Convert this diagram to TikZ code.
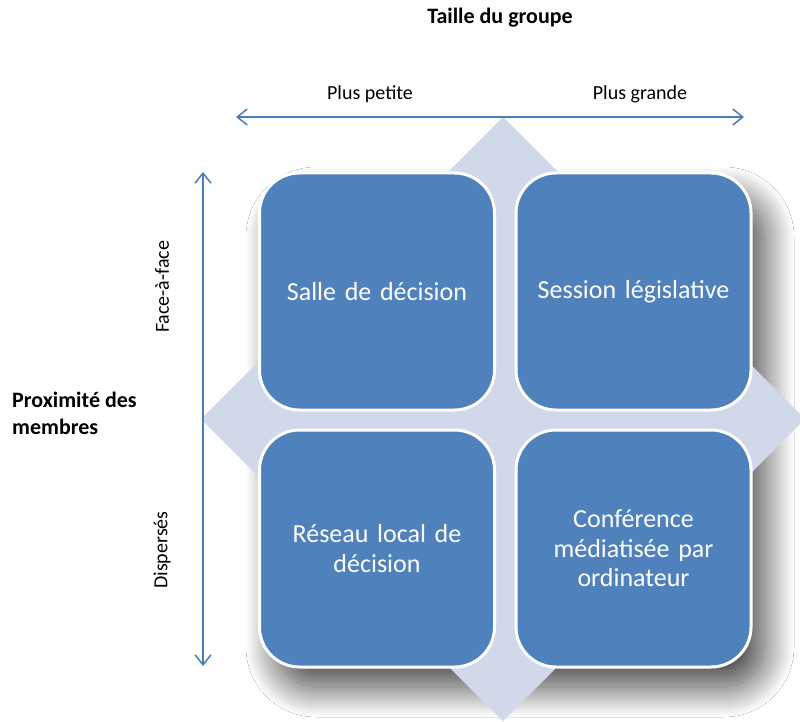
\documentclass[tikz,border=0pt]{standalone}
\usepackage{fontspec}
\setmainfont{Carlito}
\usetikzlibrary{arrows.meta,shadows.blur}
\definecolor{boxblue}{HTML}{4F81BD}
\definecolor{diam}{HTML}{D0D8E9}
\definecolor{arrowblue}{HTML}{4A7EBB}
\begin{document}
\begin{tikzpicture}[x=1pt,y=-1pt,
  cell/.style={draw=white,line width=3pt,fill=boxblue,rounded corners=40pt,
    minimum width=235pt,minimum height=237pt,text=white,
    font=\fontsize{26}{29.5}\selectfont,align=center,inner sep=0pt,text width=200pt},
  axis/.style={draw=arrowblue,line width=1.5pt,
    {Straight Barb[length=10pt,width=16pt]}-{Straight Barb[length=10pt,width=16pt]}},
  lab/.style={font=\fontsize{20}{24}\selectfont,inner sep=0pt},
  title/.style={font=\bfseries\fontsize{22}{27}\selectfont,inner sep=0pt}]
\useasboundingbox[fill=white] (0,0) rectangle (800,722);
% shadow of the matrix
\path[blur shadow={shadow xshift=14pt,shadow yshift=-22pt,shadow blur radius=30pt,
    shadow blur steps=50,shadow opacity=75},
  rounded corners=40pt] (262,175) rectangle (750,665);
% diamond
\fill[diam] (503,117) -- (805,419) -- (503,721) -- (201,419) -- cycle;
% axes
\coordinate (hL) at (236,117);
\coordinate (hR) at (744,117);
\coordinate (vT) at (203,172);
\coordinate (vB) at (203,666);
\draw[axis] (hL) -- (hR);
\draw[axis] (vT) -- (vB);
% cells
\node[cell] (tl) at (377,291.5) {Salle de décision};
\node[cell] (tr) at (633.5,291.5) {Session législative};
\node[cell] (bl) at (377,548.5) {Réseau local de\\décision};
\node[cell] (br) at (633.5,548.5) {Conférence\\médiatisée par\\ordinateur};
% labels
\node[title] (taille) at (500,18) {Taille du groupe};
\node[lab] (petite) at (370,94) {Plus petite};
\node[lab] (grande) at (640,94) {Plus grande};
\node[lab,rotate=90] (face) at (162,287) {Face-à-face};
\node[lab,rotate=90] (disp) at (162,550) {Dispersés};
\node[title,align=left,anchor=west] (prox) at (12,413.5) {Proximité des\\membres};
\end{tikzpicture}
\end{document}
